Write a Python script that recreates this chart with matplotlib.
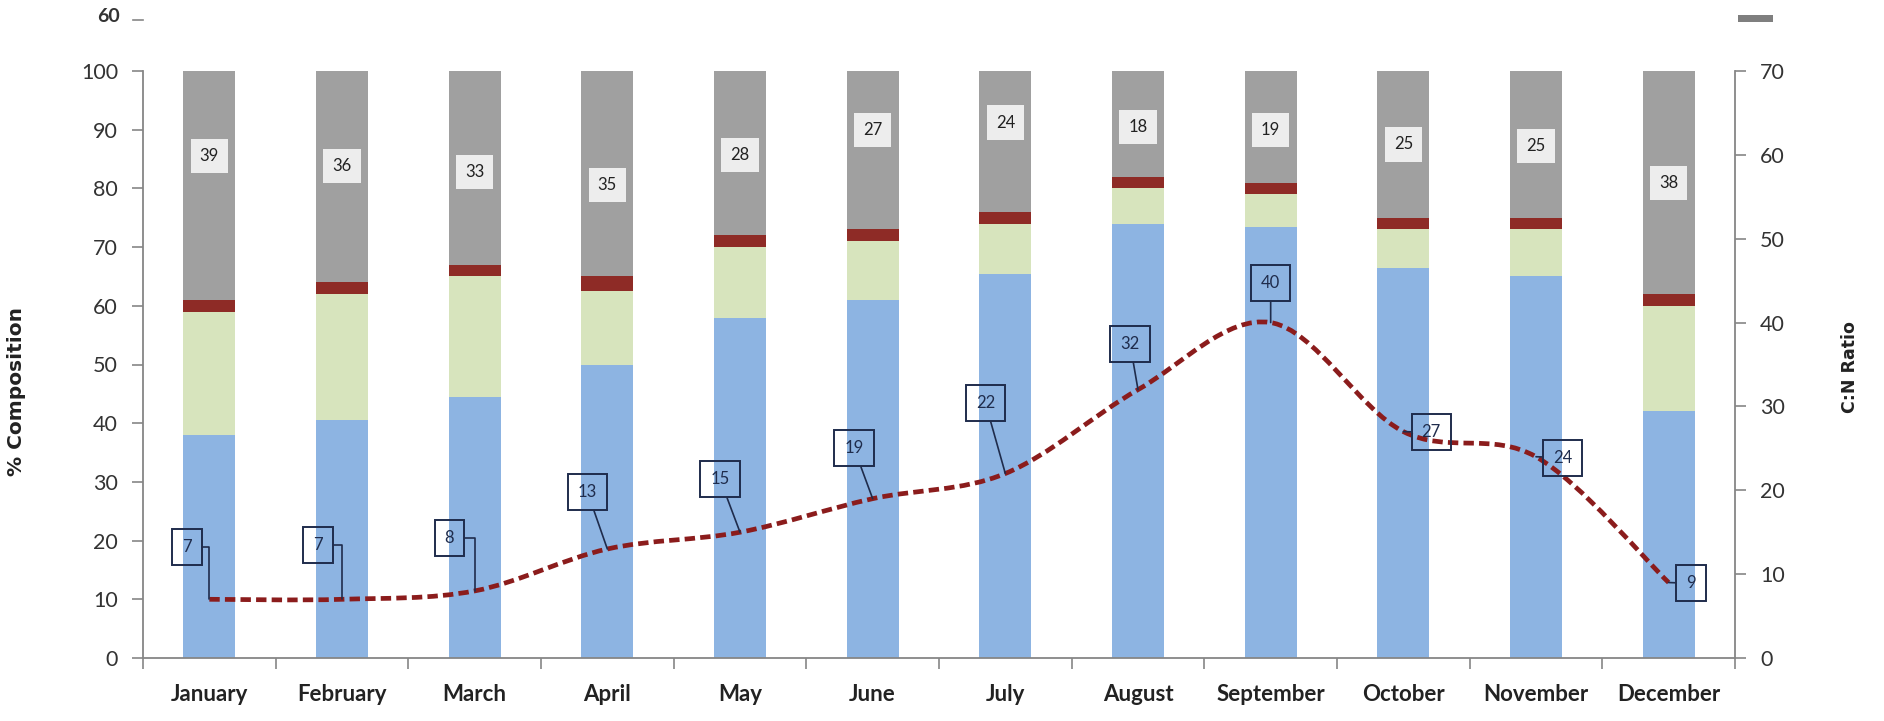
import matplotlib
matplotlib.use("Agg")
import matplotlib.pyplot as plt
from matplotlib.path import Path
from matplotlib.patches import PathPatch, Rectangle
import numpy as np

plt.rcParams['font.family'] = ['Lato', 'DejaVu Sans']

months = ["January", "February", "March", "April", "May", "June",
          "July", "August", "September", "October", "November", "December"]

# % composition of each month (stacked bottom to top)
blue = [38, 40.5, 44.5, 50, 58, 61, 65.5, 74, 73.5, 66.5, 65, 42]
green = [21, 21.5, 20.5, 12.5, 12, 10, 8.5, 6, 5.5, 6.5, 8, 18]
red = [2, 2, 2, 2.5, 2, 2, 2, 2, 2, 2, 2, 2]
gray = [39, 36, 33, 35, 28, 27, 24, 18, 19, 25, 25, 38]
# the gray labels were dragged around a bit in the original
gray_label_y = [85.5, 83.8, 82.8, 80.6, 85.7, 90, 91.2, 90.5, 90, 87.5, 87.2, 80.9]

# C:N ratio (right axis)
cn_ratio = [7, 7, 8, 13, 15, 19, 22, 32, 40, 27, 24, 9]
# where the C:N callouts sit (x shift in months, y in ratio units)
cn_label_dx = [-0.17, -0.18, -0.19, -0.15, -0.15, -0.14, -0.15, -0.06, 0, 0.21, 0.2, 0.17]
cn_label_y = [13.2, 13.5, 14.3, 19.8, 21.3, 25.0, 30.4, 37.5, 44.7, 26.9, 23.9, 8.9]

c_blue = "#8DB4E2"
c_green = "#D7E4BD"
c_red = "#8E2B26"
c_gray = "#A0A0A0"
c_line = "#8B1C1C"
c_axis = "#868686"
c_box = "#1F2C4C"

fig = plt.figure(figsize=(18.84, 7.21), dpi=100)
ax = fig.add_axes([143 / 1884, 1 - 658 / 721, 1592 / 1884, (658 - 71) / 721])
ax2 = ax.twinx()

x = np.arange(len(months))
w = 0.39
b1 = np.array(blue)
b2 = b1 + np.array(green)
b3 = b2 + np.array(red)
ax.bar(x, blue, w, color=c_blue, zorder=2)
ax.bar(x, green, w, bottom=b1, color=c_green, zorder=2)
ax.bar(x, red, w, bottom=b2, color=c_red, zorder=2)
ax.bar(x, gray, w, bottom=b3, color=c_gray, zorder=2)

for i in range(len(months)):
    ax.text(x[i], gray_label_y[i], str(gray[i]), ha="center", va="center",
            fontsize=12, color="#222222", zorder=4,
            bbox=dict(boxstyle="square,pad=0.55", fc="#EDEDED", ec="none"))

ax.set_xlim(-0.5, 11.5)
ax.set_ylim(0, 100)
ax.set_yticks(range(0, 101, 10))
ax.set_xticks(x)
ax.set_xticklabels(months, fontsize=16, fontweight="bold", color="#222222")
ax.set_xticks(np.arange(-0.5, 12, 1), minor=True)
ax.tick_params(axis="x", which="major", length=0, pad=19)
ax.tick_params(axis="x", which="minor", length=8, width=1.2, color=c_axis, direction="out")
ax.tick_params(axis="y", length=8, width=1.2, color=c_axis, pad=10, labelsize=15.5, labelcolor="#333333")
for s in ["top", "right"]:
    ax.spines[s].set_visible(False)
for s in ["left", "bottom"]:
    ax.spines[s].set_color(c_axis)
    ax.spines[s].set_linewidth(1.3)

ax2.set_ylim(0, 70)
ax2.set_yticks(range(0, 71, 10))
ax2.tick_params(axis="y", length=8, width=1.2, color=c_axis, pad=10, labelsize=15.5, labelcolor="#333333")
for s in ["top", "left", "bottom"]:
    ax2.spines[s].set_visible(False)
ax2.spines["right"].set_color(c_axis)
ax2.spines["right"].set_linewidth(1.3)

# smoothed line (Excel style bezier through the points)
pts = np.column_stack([x, cn_ratio]).astype(float)
verts = [tuple(pts[0])]
codes = [Path.MOVETO]
n = len(pts)
for i in range(n - 1):
    p0 = pts[i - 1] if i > 0 else pts[i]
    p1 = pts[i]
    p2 = pts[i + 1]
    p3 = pts[i + 2] if i + 2 < n else pts[i + 1]
    c1 = p1 + (p2 - p0) / 6.0
    c2 = p2 - (p3 - p1) / 6.0
    verts += [tuple(c1), tuple(c2), tuple(p2)]
    codes += [Path.CURVE4] * 3
ax2.add_patch(PathPatch(Path(verts, codes), fc="none", ec=c_line, lw=3.4,
                        linestyle=(0, (2.2, 1.1)), zorder=3))

for i in range(n):
    style = "angle,angleA=0,angleB=90,rad=0" if i < 3 else "arc3"
    ax2.annotate(str(cn_ratio[i]), xy=(x[i], cn_ratio[i]),
                 xytext=(x[i] + cn_label_dx[i], cn_label_y[i]),
                 ha="center", va="center", fontsize=12, color=c_box, zorder=5,
                 bbox=dict(boxstyle="square,pad=0.6", fc="none", ec=c_box, lw=1.4),
                 arrowprops=dict(arrowstyle="-", color=c_box, lw=1.2,
                                 connectionstyle=style, shrinkA=0, shrinkB=0))

fig.text(17 / 1884, 1 - 392 / 721, "% Composition", rotation=90, ha="center", va="center",
         fontsize=14.5, fontweight="bold", family=["DejaVu Sans"], color="#222222")
fig.text(1850 / 1884, 1 - 367 / 721, "C:N Ratio", rotation=90, ha="center", va="center",
         fontsize=12.5, fontweight="bold", family=["DejaVu Sans"], color="#222222")

# bits of the chart above that got cut into the picture
fig.text(120 / 1884, 1 - 22 / 721, "60", ha="right", va="baseline", fontsize=14,
         fontweight="bold", color="#333333")
fig.add_artist(plt.Line2D([133 / 1884, 143 / 1884], [1 - 20 / 721, 1 - 20 / 721],
                          color=c_axis, lw=1.2))
fig.add_artist(Rectangle((1738 / 1884, 1 - 22 / 721), 35 / 1884, 7 / 721,
                         color="#7F7F7F", lw=0))

fig.savefig("out.png", dpi=100)
